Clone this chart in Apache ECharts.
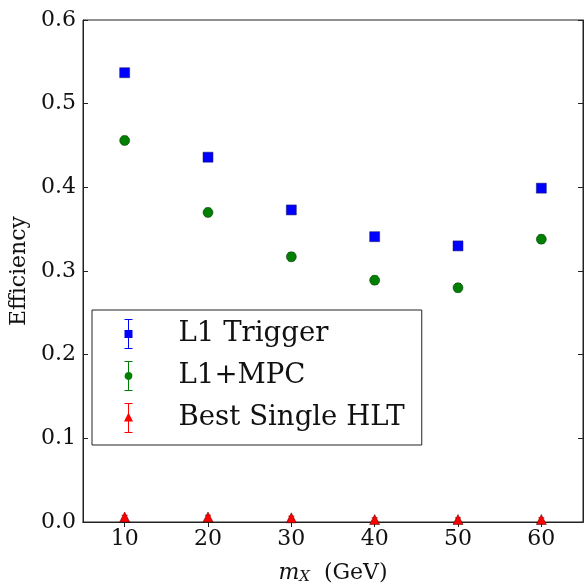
<!DOCTYPE html>
<html>
<head>
<meta charset="utf-8">
<script src="https://cdn.jsdelivr.net/npm/echarts@6/dist/echarts.min.js"></script>
<style>
  html, body { margin: 0; padding: 0; background: #fff; }
  #chart { width: 584px; height: 584px; }
</style>
</head>
<body>
<div id="chart"></div>
<script>
// mass points (GeV)
const massX = [10, 20, 30, 40, 50, 60]

const l1Trigger = [0.537, 0.436, 0.373, 0.341, 0.330, 0.399]
const l1TriggerErr = [0.004, 0.004, 0.004, 0.004, 0.004, 0.004]

const l1Mpc = [0.456, 0.370, 0.317, 0.289, 0.280, 0.338]
const l1MpcErr = [0.005, 0.005, 0.005, 0.005, 0.005, 0.005]

const bestHlt = [0.006, 0.006, 0.005, 0.003, 0.003, 0.003]
const bestHltErr = [0.002, 0.002, 0.002, 0.002, 0.002, 0.002]

const xTicks = [10, 20, 30, 40, 50, 60]

const FONT = 'DejaVu Serif'

const chart = echarts.init(document.getElementById('chart'))

const points = (ys) => massX.map((x, i) => [x, ys[i]])
const errPoints = (ys, es) => massX.map((x, i) => [x, ys[i], ys[i] - es[i], ys[i] + es[i]])

const errorSeries = (ys, es, color) => ({
  type: 'custom',
  silent: true,
  z: 1,
  renderItem: (params, api) => {
    const x = api.value(0)
    const lo = api.coord([x, api.value(2)])
    const hi = api.coord([x, api.value(3)])
    const style = { stroke: color, lineWidth: 1 }
    return {
      type: 'group',
      children: [
        { type: 'line', shape: { x1: lo[0], y1: lo[1], x2: hi[0], y2: hi[1] }, style },
        { type: 'line', shape: { x1: lo[0] - 3, y1: lo[1], x2: lo[0] + 3, y2: lo[1] }, style },
        { type: 'line', shape: { x1: hi[0] - 3, y1: hi[1], x2: hi[0] + 3, y2: hi[1] }, style },
      ],
    }
  },
  encode: { x: 0, y: 1 },
  data: errPoints(ys, es),
})

// legend icons: marker with an error bar through it
const sqIcon = 'path://M3,0H11V1H7.5V11H11V19H7.5V29H11V30H3V29H6.5V19H3V11H6.5V1H3Z'
const circIcon = 'path://M3,0H11V1H7.5V11.05A4,4,0,0,1,7.5,18.95V29H11V30H3V29H6.5V18.95A4,4,0,0,1,6.5,11.05V1H3Z'
const triIcon = 'path://M3,0H11V1H7.5V10.5L11.5,18.5H7.5V29H11V30H3V29H6.5V18.5H2.5L6.5,10.5V1H3Z'

const option = {
  animation: false,
  backgroundColor: '#fff',
  textStyle: { fontFamily: FONT },
  grid: {
    left: 83,
    right: 1,
    top: 20,
    bottom: 62,
    outerBoundsMode: 'none',
    containLabel: false,
    show: true,
    borderColor: '#222',
    borderWidth: 1,
  },
  legend: {
    orient: 'vertical',
    left: 92,
    top: 310,
    backgroundColor: '#fff',
    borderColor: '#222',
    borderWidth: 1,
    borderRadius: 0,
    padding: [9, 17, 12, 32],
    itemGap: 12,
    itemWidth: 12,
    itemHeight: 30,
    itemStyle: { borderWidth: 0 },
    textStyle: { fontFamily: FONT, fontSize: 27.6, color: '#111', padding: [0, 0, 0, 39] },
    data: [
      { name: 'L1 Trigger', icon: sqIcon },
      { name: 'L1+MPC', icon: circIcon },
      { name: 'Best Single HLT', icon: triIcon },
    ],
  },
  xAxis: [
    {
      type: 'value',
      min: 5,
      max: 65,
      name: '{i|m}{s|X}  (GeV)',
      nameLocation: 'middle',
      nameGap: 39,
      nameTextStyle: {
        fontFamily: FONT,
        fontSize: 22,
        color: '#111',
        rich: {
          i: { fontFamily: FONT, fontStyle: 'italic', fontSize: 22, color: '#111' },
          s: { fontFamily: FONT, fontStyle: 'italic', fontSize: 15, color: '#111', padding: [9, 0, 0, 0] },
        },
      },
      splitLine: { show: false },
      axisLine: { show: true, lineStyle: { color: '#222' } },
      axisTick: { inside: true, length: 5, customValues: xTicks, lineStyle: { color: '#222' } },
      axisLabel: { customValues: xTicks, fontFamily: FONT, fontSize: 22, color: '#111', margin: 6 },
    },
    {
      type: 'value',
      position: 'top',
      min: 5,
      max: 65,
      splitLine: { show: false },
      axisLine: { show: true, lineStyle: { color: '#222' } },
      axisTick: { inside: true, length: 5, customValues: xTicks, lineStyle: { color: '#222' } },
      axisLabel: { show: false },
    },
  ],
  yAxis: [
    {
      type: 'value',
      min: 0,
      max: 0.6,
      interval: 0.1,
      name: 'Efficiency',
      nameLocation: 'middle',
      nameGap: 52,
      nameTextStyle: { fontFamily: FONT, fontSize: 22, color: '#111' },
      splitLine: { show: false },
      axisLine: { show: true, lineStyle: { color: '#222' } },
      axisTick: { inside: true, length: 5, lineStyle: { color: '#222' } },
      axisLabel: { fontFamily: FONT, fontSize: 22, color: '#111', margin: 7, formatter: (v) => v.toFixed(1) },
    },
    {
      type: 'value',
      position: 'right',
      min: 0,
      max: 0.6,
      interval: 0.1,
      splitLine: { show: false },
      axisLine: { show: true, lineStyle: { color: '#222' } },
      axisTick: { inside: true, length: 5, lineStyle: { color: '#222' } },
      axisLabel: { show: false },
    },
  ],
  series: [
    errorSeries(l1Trigger, l1TriggerErr, '#0000ff'),
    errorSeries(l1Mpc, l1MpcErr, '#008000'),
    errorSeries(bestHlt, bestHltErr, '#ff0000'),
    {
      name: 'L1 Trigger',
      type: 'scatter',
      symbol: 'rect',
      symbolSize: 10,
      z: 3,
      itemStyle: { color: '#0000ff', borderColor: '#1a1a5a', borderWidth: 0.5, opacity: 1 },
      data: points(l1Trigger),
    },
    {
      name: 'L1+MPC',
      type: 'scatter',
      symbol: 'circle',
      symbolSize: 10,
      z: 3,
      itemStyle: { color: '#008000', borderColor: '#103010', borderWidth: 0.5, opacity: 1 },
      data: points(l1Mpc),
    },
    {
      name: 'Best Single HLT',
      type: 'scatter',
      symbol: 'triangle',
      symbolSize: 10,
      z: 3,
      itemStyle: { color: '#ff0000', borderColor: '#400000', borderWidth: 0.5, opacity: 1 },
      data: points(bestHlt),
    },
  ],
}

chart.setOption(option)
</script>
</body>
</html>
